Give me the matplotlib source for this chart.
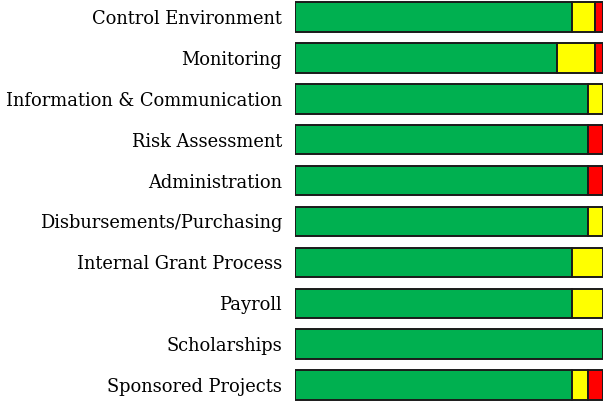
import matplotlib
matplotlib.use("Agg")
import matplotlib.pyplot as plt
import numpy as np

# Share of findings per area, by status (fractions of 1)
areas = [
    "Control Environment",
    "Monitoring",
    "Information & Communication",
    "Risk Assessment",
    "Administration",
    "Disbursements/Purchasing",
    "Internal Grant Process",
    "Payroll",
    "Scholarships",
    "Sponsored Projects",
]
green = [0.90, 0.85, 0.95, 0.95, 0.95, 0.95, 0.90, 0.90, 1.00, 0.90]
yellow = [0.075, 0.125, 0.05, 0.00, 0.00, 0.05, 0.10, 0.10, 0.00, 0.05]
red = [0.025, 0.025, 0.00, 0.05, 0.05, 0.00, 0.00, 0.00, 0.00, 0.05]

colors = ["#00B050", "#FFFF00", "#FF0000"]

W, H = 604, 405
fig = plt.figure(figsize=(W / 100, H / 100), dpi=100)
ax = fig.add_axes([294.5 / W, 0, (603 - 294.5) / W, 1])

y = np.arange(len(areas))
left = np.zeros(len(areas))
for vals, c in zip([green, yellow, red], colors):
    vals = np.array(vals)
    mask = vals > 0
    ax.barh(y[mask], vals[mask], left=left[mask], height=0.72, color=c,
            edgecolor="#1a1a1a", linewidth=1.4)
    left += vals

ax.set_xlim(0, 1)
ax.set_ylim(9.487, -0.416)
ax.set_yticks(y)
ax.set_yticklabels(areas, family="DejaVu Serif", fontsize=12.9)
ax.tick_params(axis="y", length=0, pad=9)
ax.set_xticks([])
for s in ax.spines.values():
    s.set_visible(False)

fig.savefig("out.png", dpi=100)
